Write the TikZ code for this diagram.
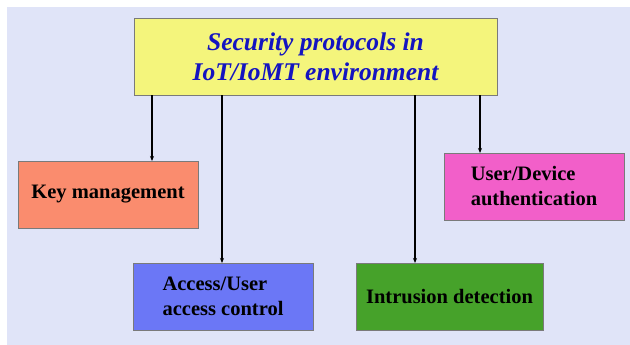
\documentclass[tikz,border=0pt]{standalone}
\usepackage{fontspec}
\setmainfont{Liberation Serif}
\usetikzlibrary{arrows.meta}
\definecolor{bgcol}{HTML}{E0E4F8}
\definecolor{titlefill}{HTML}{F4F57C}
\definecolor{titletext}{HTML}{1414C0}
\definecolor{keycol}{HTML}{FA8C6E}
\definecolor{acccol}{HTML}{6B77F6}
\definecolor{intcol}{HTML}{46A22A}
\definecolor{authcol}{HTML}{F25FC9}
\definecolor{edgecol}{HTML}{7A7A7A}
\tikzset{
  box/.style={draw=edgecol, line width=0.9pt, inner sep=0pt, outer sep=0pt,
    font=\fontsize{20.5}{25}\selectfont\bfseries, align=left},
  link/.style={line width=1.4pt, -{Stealth[length=5pt,width=4pt]}}
}
\begin{document}
\begin{tikzpicture}[x=1pt,y=-1pt]
  \useasboundingbox (0,0) rectangle (630,345);
  \fill[bgcol] (7,7) rectangle (630,345);
  % top-level box
  \node[box, fill=titlefill, minimum width=363pt, minimum height=77pt,
        align=center, text=titletext,
        font=\fontsize{25.5}{30}\selectfont\bfseries\itshape]
        (top) at (315.5,57) {Security protocols in\\IoT/IoMT environment};
  % protocol categories
  \node[box, fill=keycol, minimum width=180pt, minimum height=67pt]
        (key) at (108,194.5) {Key management};
  \node[box, fill=acccol, minimum width=180pt, minimum height=67pt]
        (acc) at (223,296.5) {Access/User\\access control};
  \node[box, fill=intcol, minimum width=187pt, minimum height=67pt]
        (int) at (449.5,296.5) {Intrusion detection};
  \node[box, fill=authcol, minimum width=180pt, minimum height=67pt]
        (auth) at (534,186.5) {User/Device\\authentication};
  % connectors from the top box
  \draw[link] (top.south -| 152,0) -- (key.north -| 152,0);
  \draw[link] (top.south -| 222,0) -- (acc.north -| 222,0);
  \draw[link] (top.south -| 415,0) -- (int.north -| 415,0);
  \draw[link] (top.south -| 480,0) -- (auth.north -| 480,0);
\end{tikzpicture}
\end{document}
